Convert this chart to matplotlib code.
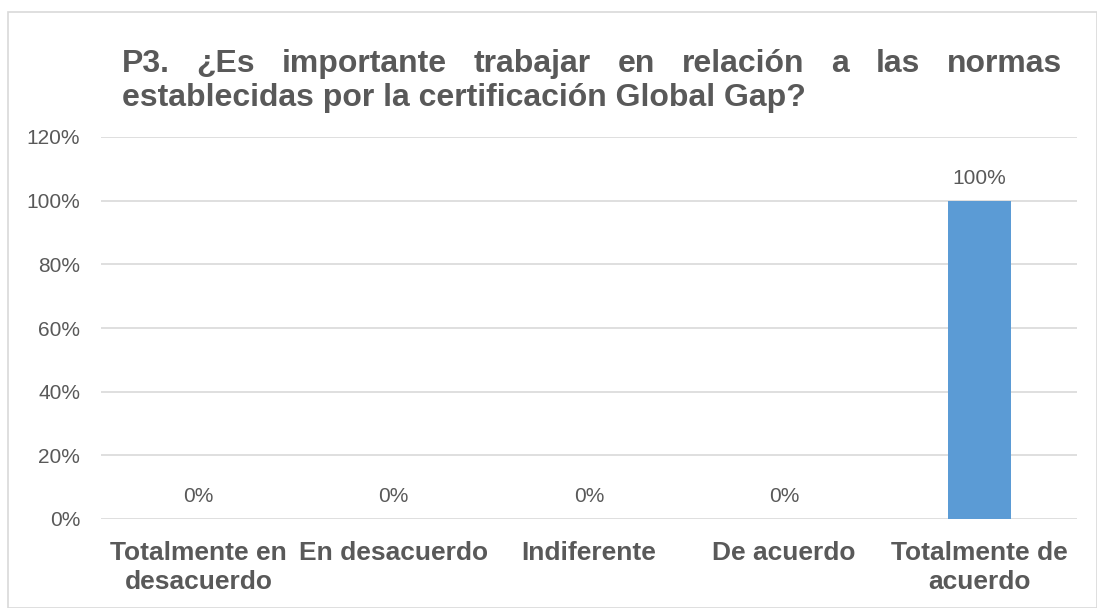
import matplotlib
matplotlib.use("Agg")
import matplotlib.pyplot as plt
from matplotlib.patches import Rectangle

categories = ["Totalmente en\ndesacuerdo", "En desacuerdo", "Indiferente", "De acuerdo", "Totalmente de\nacuerdo"]
values = [0, 0, 0, 0, 100]
yticks = [0, 20, 40, 60, 80, 100, 120]
title_lines = ["P3. ¿Es importante trabajar en relación a las normas",
               "establecidas por la certificación Global Gap?"]

W, H = 1097, 608
fig = plt.figure(figsize=(W/100, H/100), dpi=100)
plt.rcParams['font.family'] = ['Liberation Sans', 'DejaVu Sans']
text_col = "#595959"

fig.patches.append(Rectangle((8/W, 0), (W-8)/W - 0.5/W, (H-12)/H, transform=fig.transFigure,
                             fill=False, edgecolor="#D9D9D9", linewidth=1.2))

ax = fig.add_axes([101/W, 1-519/H, (1077-101)/W, (519-137)/H])
x = range(len(categories))
ax.bar(x, values, width=0.32, color="#5B9BD5", zorder=3)
ax.set_ylim(0, 120)
ax.set_xlim(-0.5, len(categories)-0.5)
ax.set_yticks(yticks)
ax.set_yticklabels([f"{v}%" for v in yticks], fontsize=15, color=text_col)
ax.set_xticks(list(x))
ax.set_xticklabels(categories, fontsize=19, fontweight="bold", color=text_col, linespacing=1.25)
ax.tick_params(axis="both", length=0)
ax.tick_params(axis="x", pad=16)
ax.tick_params(axis="y", pad=15)
ax.grid(axis="y", color="#D9D9D9", linewidth=1.2, zorder=0)
for s in ax.spines.values():
    s.set_visible(False)
for i, v in enumerate(values):
    ax.annotate(f"{v}%", (i, v), xytext=(0, 9), textcoords="offset points",
                ha="center", va="bottom", fontsize=15, color=text_col)

# justified first line, left-aligned second line
left_px, right_px = 122, 1062
fs_title = 23
fig.canvas.draw()
r = fig.canvas.get_renderer()
words = title_lines[0].split(" ")
tmp = [fig.text(0, 0, w, fontsize=fs_title, fontweight="bold") for w in words]
widths = [t.get_window_extent(r).width for t in tmp]
for t in tmp:
    t.remove()
gap = (right_px - left_px - sum(widths)) / (len(words) - 1)
xp = left_px
for w, wd in zip(words, widths):
    fig.text(xp/W, 1-64/H, w, fontsize=fs_title, fontweight="bold", color=text_col, va="center", ha="left")
    xp += wd + gap
fig.text(left_px/W, 1-98/H, title_lines[1], fontsize=fs_title, fontweight="bold", color=text_col, va="center", ha="left")

fig.savefig("out.png", dpi=100)
